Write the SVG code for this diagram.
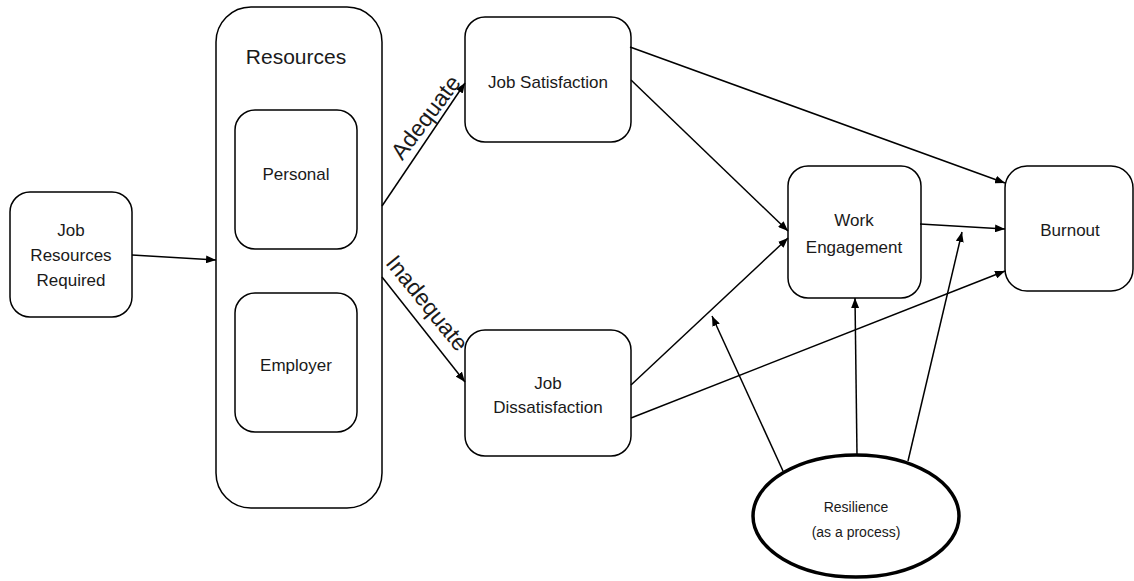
<svg xmlns="http://www.w3.org/2000/svg" width="1134" height="581" viewBox="0 0 1134 581">
<style>
.box{fill:#fff;stroke:#000;stroke-width:1.5}
.t{font-family:"Liberation Sans",Arial,sans-serif;font-size:17px;fill:#1a1a1a;text-anchor:middle}
.c{fill:none;stroke:#000;stroke-width:1.5;marker-end:url(#ah)}
</style>
<defs>
<marker id="ah" viewBox="0 0 10 8" refX="10" refY="4" markerWidth="10" markerHeight="8" markerUnits="userSpaceOnUse" orient="auto">
<path d="M0,0 L10,4 L0,8 Z" fill="#000"/>
</marker>
</defs>
<rect width="1134" height="581" fill="#fff"/>
<g id="job-resources-required">
<rect class="box" x="10" y="192" width="122" height="125" rx="20"/>
<text class="t" x="71" y="236">Job</text>
<text class="t" x="71" y="261">Resources</text>
<text class="t" x="71" y="286">Required</text>
</g>
<g id="resources">
<rect class="box" x="216" y="7" width="166" height="501" rx="35"/>
<text class="t" x="296" y="64" style="font-size:21px">Resources</text>
</g>
<g id="personal">
<rect class="box" x="235" y="110" width="122" height="139" rx="20"/>
<text class="t" x="296" y="180">Personal</text>
</g>
<g id="employer">
<rect class="box" x="235" y="293" width="122" height="139" rx="20"/>
<text class="t" x="296" y="371">Employer</text>
</g>
<g id="job-satisfaction">
<rect class="box" x="465" y="17" width="166" height="125" rx="20"/>
<text class="t" x="548" y="88">Job Satisfaction</text>
</g>
<g id="job-dissatisfaction">
<rect class="box" x="465" y="330" width="166" height="126" rx="20"/>
<text class="t" x="548" y="389">Job</text>
<text class="t" x="548" y="413">Dissatisfaction</text>
</g>
<g id="work-engagement">
<rect class="box" x="788" y="166" width="133" height="132" rx="20"/>
<text class="t" x="854" y="226">Work</text>
<text class="t" x="854" y="253">Engagement</text>
</g>
<g id="burnout">
<rect class="box" x="1005" y="166" width="128" height="125" rx="22"/>
<text class="t" x="1070" y="236">Burnout</text>
</g>
<g id="resilience">
<ellipse cx="856" cy="516" rx="103" ry="61" fill="#fff" stroke="#000" stroke-width="3.5"/>
<text class="t" x="856" y="512" style="font-size:14px">Resilience</text>
<text class="t" x="856" y="537" style="font-size:14px">(as a process)</text>
</g>
<g id="connectors">
<line class="c" x1="132" y1="255" x2="216" y2="260"/>
<line class="c" x1="382" y1="206" x2="465" y2="83"/>
<line class="c" x1="382" y1="277" x2="465" y2="382"/>
<line class="c" x1="630" y1="47" x2="1005" y2="183"/>
<line class="c" x1="631" y1="80" x2="788" y2="231"/>
<line class="c" x1="631" y1="385" x2="788" y2="238"/>
<line class="c" x1="631" y1="418" x2="1005" y2="271"/>
<line class="c" x1="920" y1="224" x2="1005" y2="229"/>
<line class="c" x1="908" y1="461" x2="962" y2="232"/>
<line class="c" x1="857" y1="455" x2="855" y2="298"/>
<line class="c" x1="783" y1="471" x2="712" y2="316"/>
<text class="t" style="font-size:23px" transform="translate(432,122) rotate(-53)">Adequate</text>
<text class="t" style="font-size:23px" transform="translate(421,308) rotate(51)">Inadequate</text>
</g>
</svg>
